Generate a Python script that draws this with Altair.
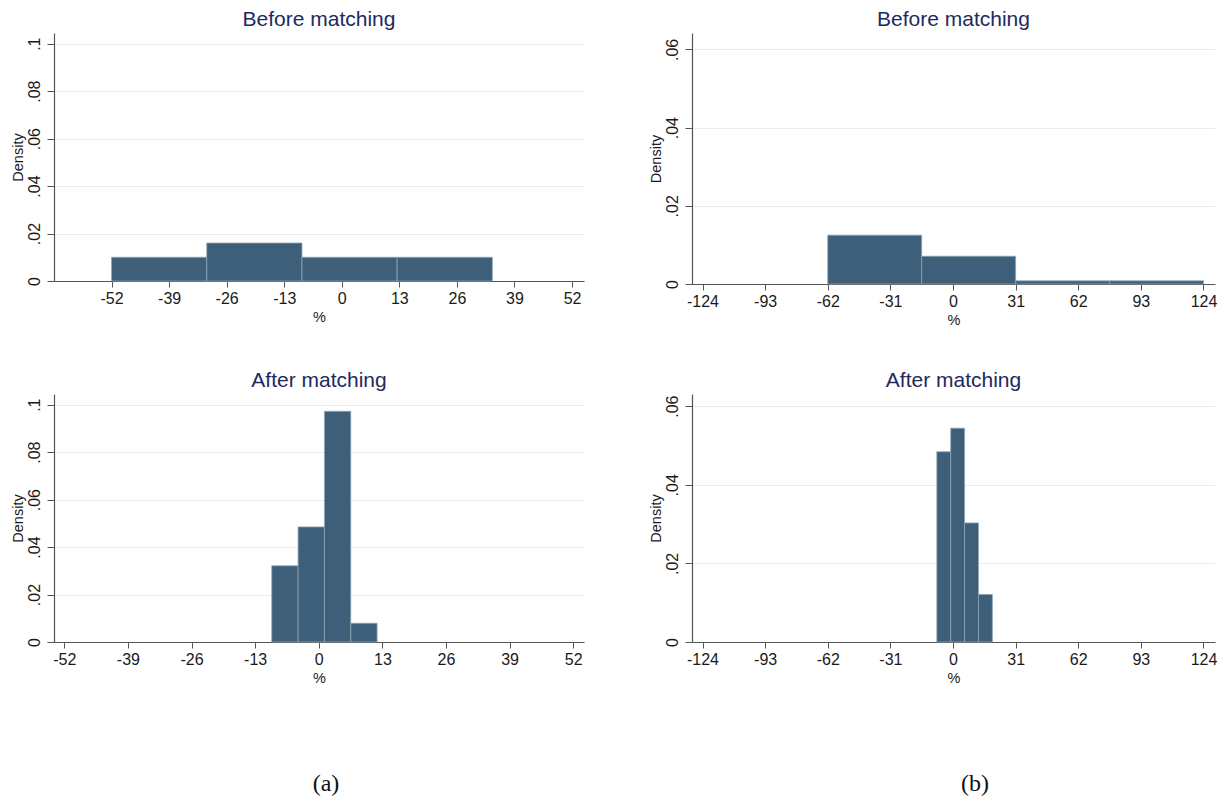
import altair as alt
import pandas as pd

# ---- data ----
# (a) before matching
a_before_left = [-52.0, -30.5, -9.0, 12.5]
a_before_right = [-30.5, -9.0, 12.5, 34.0]
a_before_density = [0.0100, 0.0160, 0.0100, 0.0100]
# (a) after matching
a_after_left = [-9.6, -4.22, 1.16, 6.54]
a_after_right = [-4.22, 1.16, 6.54, 11.92]
a_after_density = [0.0321, 0.0485, 0.0972, 0.0079]
# (b) before matching
b_before_left = [-62.0, -15.5, 31.0, 77.5]
b_before_right = [-15.5, 31.0, 77.5, 124.0]
b_before_density = [0.0125, 0.0071, 0.0008, 0.0008]
# (b) after matching
b_after_left = [-8.0, -1.13, 5.74, 12.61]
b_after_right = [-1.13, 5.74, 12.61, 19.48]
b_after_density = [0.0484, 0.0544, 0.0303, 0.0121]

a_xticks = [-52, -39, -26, -13, 0, 13, 26, 39, 52]
b_xticks = [-124, -93, -62, -31, 0, 31, 62, 93, 124]
a_yticks = [0, 0.02, 0.04, 0.06, 0.08, 0.1]
b_yticks = [0, 0.02, 0.04, 0.06]

titles = ["Before matching", "After matching"]
captions = ["(a)", "(b)"]

FONT = "Liberation Sans"
BAR = "#3e5f7a"
AXIS = "#555555"
TITLE_COLOR = "#1e2a5e"


def frame(lefts, rights, dens):
    return pd.DataFrame({"x0": lefts, "x1": rights, "d": dens})


def panel(df, title, xdom, xticks, ydom, yticks, w, h, caption=None, cap_x=0):
    bars = alt.Chart(df).mark_rect(
        fill=BAR, stroke="#8ea3b3", strokeWidth=0.8
    ).encode(
        x=alt.X(
            "x0:Q",
            scale=alt.Scale(domain=xdom, nice=False, zero=False),
            axis=alt.Axis(
                values=xticks, grid=False, title="%", tickSize=6,
                labelExpr="'' + datum.value",
                labelFontSize=16, labelFont=FONT, labelColor="#1a1a1a",
                labelPadding=3, labelFlush=False, labelOverlap=False,
                titleFont=FONT, titleFontSize=14.5, titleFontWeight="normal",
                titleColor="#1a1a1a", titlePadding=4,
                domainColor=AXIS, tickColor=AXIS, domainWidth=1.2,
            ),
        ),
        x2="x1:Q",
        y=alt.Y(
            "d:Q",
            scale=alt.Scale(domain=ydom, nice=False, zero=True),
            axis=alt.Axis(
                values=yticks, grid=True, gridColor="#e6eff0", gridWidth=1,
                title="Density", tickSize=7, labelAngle=270,
                labelAlign="center", labelBaseline="bottom",
                labelExpr="datum.value == 0 ? '0' : slice(format(datum.value, '.2~f'), 1)",
                labelFontSize=16, labelFont=FONT, labelColor="#1a1a1a",
                labelPadding=5, labelOverlap=False, labelFlush=False,
                titleFont=FONT, titleFontSize=14.5, titleFontWeight="normal",
                titleColor="#1a1a1a", titlePadding=1,
                domainColor=AXIS, tickColor=AXIS, domainWidth=1.2,
            ),
        ),
        y2=alt.datum(0),
    )
    layers = [bars]
    if caption is not None:
        cap = alt.Chart(alt.Data(values=[{"t": caption}])).mark_text(
            font="Liberation Serif", fontSize=24, color="#111111", baseline="middle"
        ).encode(text="t:N", x=alt.value(cap_x), y=alt.value(390))
        layers.append(cap)
    return alt.layer(*layers).properties(
        width=w, height=h,
        title=alt.TitleParams(
            text=title, font=FONT, fontSize=21, fontWeight="normal",
            color=TITLE_COLOR, anchor="middle", frame="group", offset=3,
        ),
    )


tl = panel(frame(a_before_left, a_before_right, a_before_density), titles[0],
           [-65.0, 54.7], a_xticks, [0, 0.1045], a_yticks, 530, 248)
tr = panel(frame(b_before_left, b_before_right, b_before_density), titles[0],
           [-129.2, 129.7], b_xticks, [0, 0.0642], b_yticks, 523, 251)
bl = panel(frame(a_after_left, a_after_right, a_after_density), titles[1],
           [-54.1, 54.2], a_xticks, [0, 0.1045], a_yticks, 530, 248,
           caption=captions[0], cap_x=272)
br = panel(frame(b_after_left, b_after_right, b_after_density), titles[1],
           [-129.2, 129.7], b_xticks, [0, 0.0631], b_yticks, 523, 248,
           caption=captions[1], cap_x=283)

chart = alt.concat(
    tl, tr, bl, br, columns=2,
    spacing=alt.RowColnumber(row=110, column=108), bounds="flush"
).properties(
    padding={"left": 10, "top": 9, "right": 5, "bottom": 2},
    background="white",
).configure_view(stroke=None)

chart.save("out.html", embed_options={"renderer": "svg", "actions": False})
